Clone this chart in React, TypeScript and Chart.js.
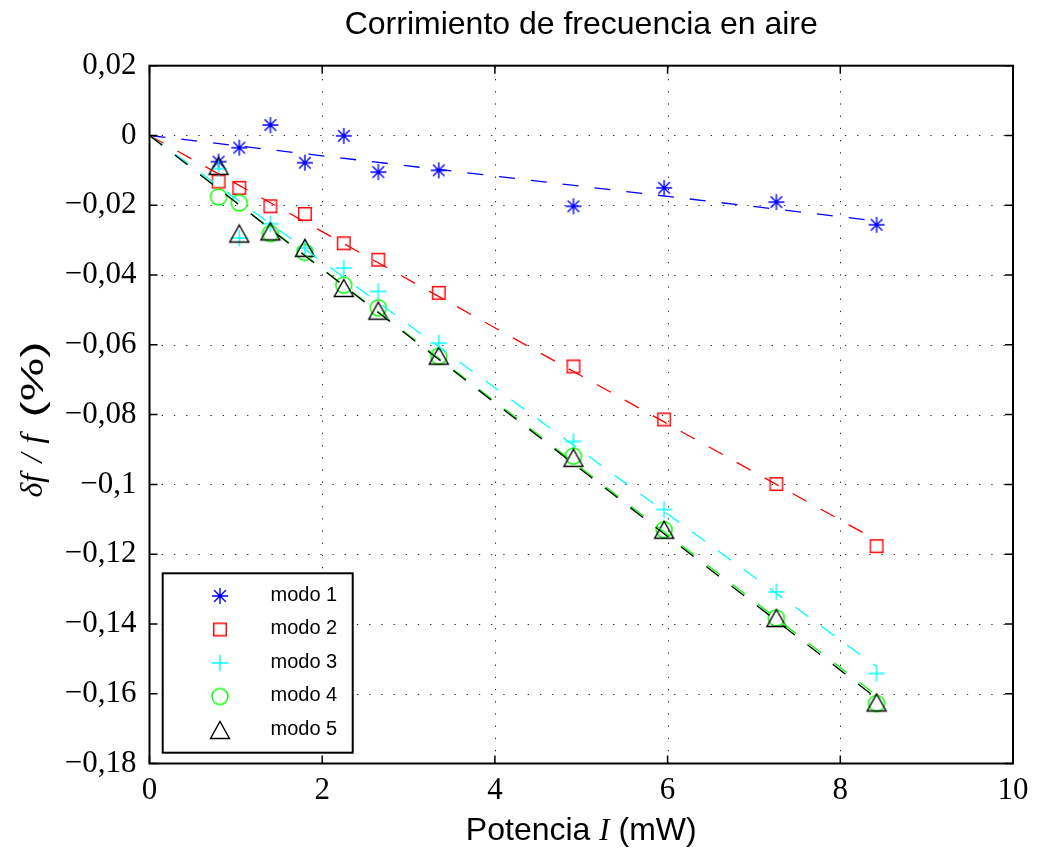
import React, { useEffect, useRef } from 'react';
import { Chart, registerables } from 'chart.js';

Chart.register(...registerables);

const TITLE = 'Corrimiento de frecuencia en aire';
const seriesLabels = ['modo 1', 'modo 2', 'modo 3', 'modo 4', 'modo 5'];
const seriesColors = ['#0000ff', '#ff0000', '#00ffff', '#00ff00', '#000000'];
const seriesMarkers = ['star', 'square', 'plus', 'circle', 'triangle'];

// Potencia I (mW)
const potencia = [0.80, 1.04, 1.40, 1.80, 2.25, 2.65, 3.35, 4.91, 5.96, 7.26, 8.42];
// δf/f (%)
const modo1 = [-0.0075, -0.0035, 0.0030, -0.0078, -0.0001, -0.0105, -0.0100, -0.0203, -0.0150, -0.0191, -0.0256];
const modo2 = [-0.0132, -0.0150, -0.0203, -0.0225, -0.0309, -0.0356, -0.0451, -0.0662, -0.0814, -0.0999, -0.1177];
const modo3 = [-0.0095, -0.0294, -0.0253, -0.0322, -0.0380, -0.0447, -0.0595, -0.0877, -0.1072, -0.1308, -0.1542];
const modo4 = [-0.0176, -0.0193, -0.0281, -0.0335, -0.0429, -0.0494, -0.0633, -0.0919, -0.1130, -0.1383, -0.1628];
const modo5 = [-0.0087, -0.0281, -0.0275, -0.0322, -0.0437, -0.0502, -0.0631, -0.0924, -0.1130, -0.1383, -0.1625];

// linear fits (through the origin), end points
const fitX = [0, 8.42];
const fit1 = [0, -0.0245];
const fit2 = [0, -0.1160];
const fit3 = [0, -0.1522];
const fit4 = [0, -0.1605];
const fit5 = [0, -0.1613];

const xTickValues = [0, 2, 4, 6, 8, 10];
const xTickLabels = ['0', '2', '4', '6', '8', '10'];
const yTickValues = [-0.18, -0.16, -0.14, -0.12, -0.1, -0.08, -0.06, -0.04, -0.02, 0, 0.02];
const yTickLabels = ['\u22120,18', '\u22120,16', '\u22120,14', '\u22120,12', '\u22120,1', '\u22120,08', '\u22120,06', '\u22120,04', '\u22120,02', '0', '0,02'];

const W = 1038;
const H = 851;

function makeMarker(kind: string, color: string): HTMLCanvasElement {
  const s = 26;
  const c = 13;
  const cv = document.createElement('canvas');
  cv.width = s;
  cv.height = s;
  const g = cv.getContext('2d')!;
  g.strokeStyle = color;
  g.lineWidth = 1.4;
  g.beginPath();
  if (kind === 'star') {
    const r = 8;
    const d = r * 0.72;
    g.moveTo(c - r, c); g.lineTo(c + r, c);
    g.moveTo(c, c - r); g.lineTo(c, c + r);
    g.moveTo(c - d, c - d); g.lineTo(c + d, c + d);
    g.moveTo(c - d, c + d); g.lineTo(c + d, c - d);
  } else if (kind === 'square') {
    g.rect(c - 6.25, c - 6.25, 12.5, 12.5);
  } else if (kind === 'plus') {
    const r = 8.3;
    g.moveTo(c - r, c); g.lineTo(c + r, c);
    g.moveTo(c, c - r); g.lineTo(c, c + r);
  } else if (kind === 'circle') {
    g.arc(c, c, 8, 0, Math.PI * 2);
  } else if (kind === 'triangle') {
    g.moveTo(c, c - 8.5);
    g.lineTo(c + 9.5, c + 8.5);
    g.lineTo(c - 9.5, c + 8.5);
    g.closePath();
  }
  g.stroke();
  return cv;
}

function drawPieces(ctx: CanvasRenderingContext2D, pieces: { t: string; f: string }[], cx: number, cy: number) {
  let total = 0;
  for (const p of pieces) {
    ctx.font = p.f;
    total += ctx.measureText(p.t).width;
  }
  let x = cx - total / 2;
  ctx.textAlign = 'left';
  ctx.textBaseline = 'alphabetic';
  for (const p of pieces) {
    ctx.font = p.f;
    ctx.fillText(p.t, x, cy);
    x += ctx.measureText(p.t).width;
  }
}

export default function App() {
  const ref = useRef<HTMLCanvasElement | null>(null);

  useEffect(() => {
    document.body.style.margin = '0';
    document.body.style.overflow = 'hidden';
    const canvas = ref.current;
    if (!canvas) return;

    const markers = seriesMarkers.map((m, i) => makeMarker(m, seriesColors[i]));
    const series = [modo1, modo2, modo3, modo4, modo5];
    const fits = [fit1, fit2, fit3, fit4, fit5];

    const markerSets = series.map((arr, i) => ({
      label: seriesLabels[i],
      data: potencia.map((x, k) => ({ x, y: arr[k] })),
      showLine: false,
      pointStyle: markers[i],
      pointRadius: 9,
      borderColor: seriesColors[i],
      backgroundColor: 'transparent',
      order: 10 - i,
    }));
    const lineSets = fits.map((arr, i) => ({
      label: 'ajuste ' + seriesLabels[i],
      data: fitX.map((x, k) => ({ x, y: arr[k] })),
      showLine: true,
      borderColor: seriesColors[i],
      borderWidth: 1.3,
      borderDash: [16, 16],
      pointRadius: 0,
      fill: false,
      order: 5 - i,
    }));

    const decor = {
      id: 'decor',
      beforeDatasetsDraw(chart: any) {
        const { ctx, chartArea: a, scales } = chart;
        const x = scales.x;
        const y = scales.y;
        ctx.save();
        ctx.strokeStyle = 'rgba(0,0,0,0.85)';
        ctx.lineWidth = 1;
        ctx.setLineDash([1.3, 10.9]);
        for (const v of xTickValues) {
          if (v === xTickValues[0] || v === xTickValues[xTickValues.length - 1]) continue;
          const px = Math.round(x.getPixelForValue(v)) + 0.5;
          ctx.beginPath();
          ctx.moveTo(px, a.bottom);
          ctx.lineTo(px, a.top);
          ctx.stroke();
        }
        for (const v of yTickValues) {
          if (v === yTickValues[0] || v === yTickValues[yTickValues.length - 1]) continue;
          const py = Math.round(y.getPixelForValue(v)) + 0.5;
          ctx.beginPath();
          ctx.moveTo(a.left, py);
          ctx.lineTo(a.right, py);
          ctx.stroke();
        }
        ctx.restore();
      },
      afterDatasetsDraw(chart: any) {
        const { ctx, chartArea: a, scales } = chart;
        const x = scales.x;
        const y = scales.y;
        ctx.save();
        ctx.setLineDash([]);
        ctx.strokeStyle = '#000';
        // ticks (inward, all sides)
        ctx.lineWidth = 1.5;
        const tl = 8;
        for (const v of xTickValues) {
          const px = x.getPixelForValue(v);
          ctx.beginPath();
          ctx.moveTo(px, a.bottom); ctx.lineTo(px, a.bottom - tl);
          ctx.moveTo(px, a.top); ctx.lineTo(px, a.top + tl);
          ctx.stroke();
        }
        for (const v of yTickValues) {
          const py = y.getPixelForValue(v);
          ctx.beginPath();
          ctx.moveTo(a.left, py); ctx.lineTo(a.left + tl, py);
          ctx.moveTo(a.right, py); ctx.lineTo(a.right - tl, py);
          ctx.stroke();
        }
        // frame
        ctx.lineWidth = 2;
        ctx.strokeRect(a.left, a.top, a.right - a.left, a.bottom - a.top);

        // legend
        const lx = 162.7, ly = 573.3, lw = 190, lh = 179.4;
        ctx.fillStyle = '#fff';
        ctx.fillRect(lx, ly, lw, lh);
        ctx.lineWidth = 2;
        ctx.strokeRect(lx, ly, lw, lh);
        ctx.font = '20px "Liberation Sans", Arial, sans-serif';
        ctx.fillStyle = '#000';
        ctx.textAlign = 'left';
        ctx.textBaseline = 'alphabetic';
        for (let i = 0; i < seriesLabels.length; i++) {
          const ry = 596 + i * 33.5;
          const m = markers[i];
          ctx.drawImage(m, 220 - m.width / 2, ry - m.height / 2);
          ctx.fillText(seriesLabels[i], 270.5, ry + 4.6);
        }
        ctx.restore();
      },
      afterDraw(chart: any) {
        const { ctx, chartArea: a } = chart;
        const cx = (a.left + a.right) / 2;
        ctx.save();
        ctx.fillStyle = '#000';
        ctx.font = '32px "Liberation Sans", Arial, sans-serif';
        ctx.textAlign = 'center';
        ctx.textBaseline = 'alphabetic';
        ctx.fillText(TITLE, cx, 33.5);

        const sans = '32px "Liberation Sans", Arial, sans-serif';
        const ital = 'italic 31px "Liberation Serif", serif';
        drawPieces(ctx, [
          { t: 'Potencia ', f: sans },
          { t: 'I', f: ital },
          { t: ' (mW)', f: sans },
        ], cx, 840);

        // y label, rotated; positions along the text direction relative to plot centre
        ctx.save();
        ctx.translate(42.5, 414.5);
        ctx.rotate(-Math.PI / 2);
        ctx.textAlign = 'left';
        ctx.textBaseline = 'alphabetic';
        ctx.font = 'italic 32px "Liberation Serif", serif';
        ctx.fillText('\u03b4f', -83, -1);
        ctx.fillText('/', -48, -1);
        ctx.fillText('f', -29, -1);
        ctx.font = '32px "Liberation Sans", Arial, sans-serif';
        const pw = ctx.measureText('(%)').width;
        ctx.save();
        ctx.translate(-3, 0);
        ctx.scale(76 / pw, 1);
        ctx.fillText('(%)', 0, 0);
        ctx.restore();
        ctx.restore();
        ctx.restore();
      },
    };

    const tickFont = { family: '"Liberation Serif", serif', size: 31 };

    const chart = new Chart(canvas, {
      type: 'scatter',
      data: { datasets: [...markerSets, ...lineSets] as any },
      options: {
        responsive: false,
        animation: false,
        layout: { padding: { top: 65.7, right: 25, left: 0, bottom: 0 } },
        plugins: {
          legend: { display: false },
          title: { display: false },
          tooltip: { enabled: false },
        },
        scales: {
          x: {
            type: 'linear',
            min: 0,
            max: 10,
            grid: { display: false, drawTicks: false },
            border: { display: false },
            afterBuildTicks: (s: any) => {
              s.ticks = xTickValues.map((v) => ({ value: v }));
            },
            afterFit: (s: any) => {
              s.height = H - 763.5;
            },
            ticks: {
              autoSkip: false,
              maxRotation: 0,
              padding: 9,
              color: '#000',
              font: tickFont,
              callback: (_v: any, i: number) => xTickLabels[i],
            },
          },
          y: {
            type: 'linear',
            min: -0.18,
            max: 0.02,
            grid: { display: false, drawTicks: false },
            border: { display: false },
            afterBuildTicks: (s: any) => {
              s.ticks = yTickValues.map((v) => ({ value: v }));
            },
            afterFit: (s: any) => {
              s.width = 149.5;
            },
            ticks: {
              autoSkip: false,
              padding: 13,
              color: '#000',
              font: tickFont,
              callback: (_v: any, i: number) => yTickLabels[i],
            },
          },
        },
      },
      plugins: [decor],
    });

    return () => {
      chart.destroy();
    };
  }, []);

  return <canvas ref={ref} width={W} height={H} style={{ display: 'block' }} />;
}
